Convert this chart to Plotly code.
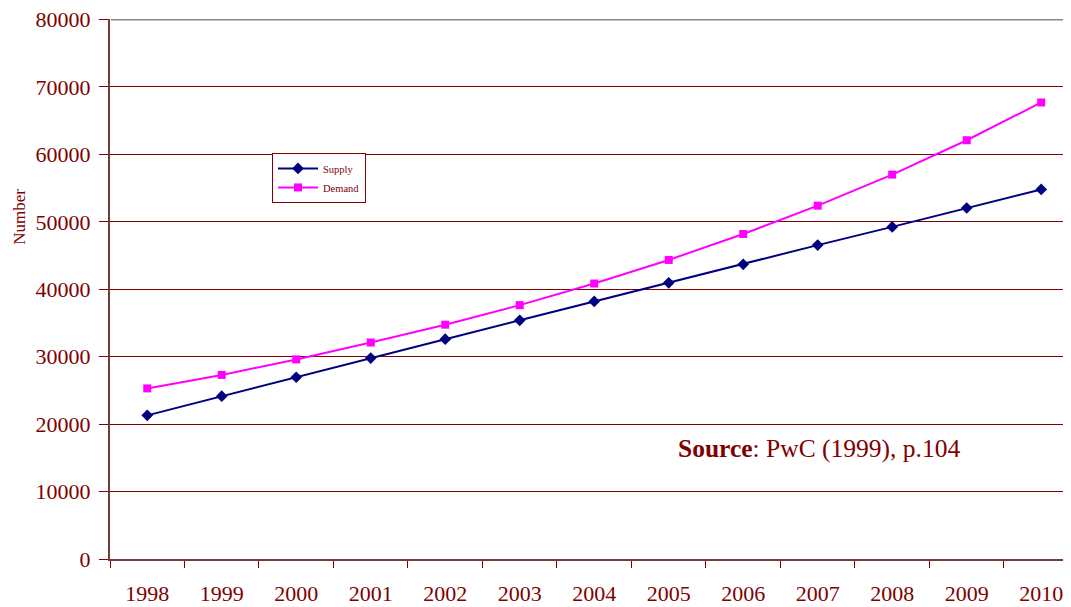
import plotly.graph_objects as go

years = ["1998", "1999", "2000", "2001", "2002", "2003", "2004",
         "2005", "2006", "2007", "2008", "2009", "2010"]
supply = [21300, 24150, 26950, 29800, 32600, 35400, 38200,
          40950, 43700, 46550, 49250, 52050, 54800]
demand = [25300, 27300, 29600, 32100, 34750, 37650, 40850,
          44350, 48200, 52400, 57000, 62100, 67700]
y_ticks = [0, 10000, 20000, 30000, 40000, 50000, 60000, 70000, 80000]

MAROON = "#800000"
FONT = "Liberation Serif, Times New Roman, serif"

fig = go.Figure()
fig.add_trace(go.Scatter(
    x=years, y=supply, name="Supply", mode="lines+markers",
    line=dict(color="#000080", width=2),
    marker=dict(symbol="diamond", size=9, color="#000080"),
))
fig.add_trace(go.Scatter(
    x=years, y=demand, name="Demand", mode="lines+markers",
    line=dict(color="#FF00FF", width=2),
    marker=dict(symbol="square", size=8, color="#FF00FF"),
))

# page body has an 8px margin, so offset the figure's own margins accordingly
fig.update_layout(
    width=1071, height=607,
    margin=dict(l=102, r=8, t=11, b=56, autoexpand=False),
    paper_bgcolor="white", plot_bgcolor="white",
    font=dict(family=FONT, color=MAROON),
    showlegend=True,
    legend=dict(
        x=0.1686, y=0.752, xanchor="left", yanchor="top",
        bgcolor="white", bordercolor=MAROON, borderwidth=1,
        font=dict(family=FONT, size=10.5, color=MAROON),
        tracegroupgap=0, itemwidth=40,
    ),
    xaxis=dict(
        type="category", range=[-0.5, 12.4], automargin=False,
        tickson="boundaries", ticks="outside", ticklen=7, tickcolor=MAROON,
        showline=True, linecolor="#7a3a3a", linewidth=2,
        showgrid=False, zeroline=False,
        tickfont=dict(family=FONT, size=22, color=MAROON),
        ticklabelstandoff=14, ticklabeloverflow="allow",
    ),
    yaxis=dict(
        range=[0, 80080], tickvals=y_ticks, tickformat="d", automargin=False,
        ticks="outside", ticklen=9, tickcolor=MAROON,
        showline=True, linecolor="#7a3a3a", linewidth=2,
        showgrid=True, gridcolor=MAROON, gridwidth=1,
        zeroline=False,
        tickfont=dict(family=FONT, size=22, color=MAROON),
        ticklabelstandoff=4, ticklabeloverflow="allow",
    ),
)

fig.add_shape(
    type="line", xref="paper", yref="y", x0=0.001, x1=1, y0=80000, y1=80000,
    line=dict(color="#888888", width=2), layer="above",
)

fig.add_annotation(
    text="Number", textangle=-90, xref="paper", yref="paper",
    x=-0.095, y=(559 - 217) / 540, xanchor="center", yanchor="middle",
    showarrow=False, font=dict(family=FONT, size=17, color=MAROON),
)
fig.add_annotation(
    text="<b>Source</b>: PwC (1999), p.104", xref="paper", yref="paper",
    x=(676 - 110) / 961, y=(559 - 448) / 540, xanchor="left", yanchor="middle",
    showarrow=False, font=dict(family=FONT, size=25.5, color=MAROON),
)

fig.write_html("out.html")
